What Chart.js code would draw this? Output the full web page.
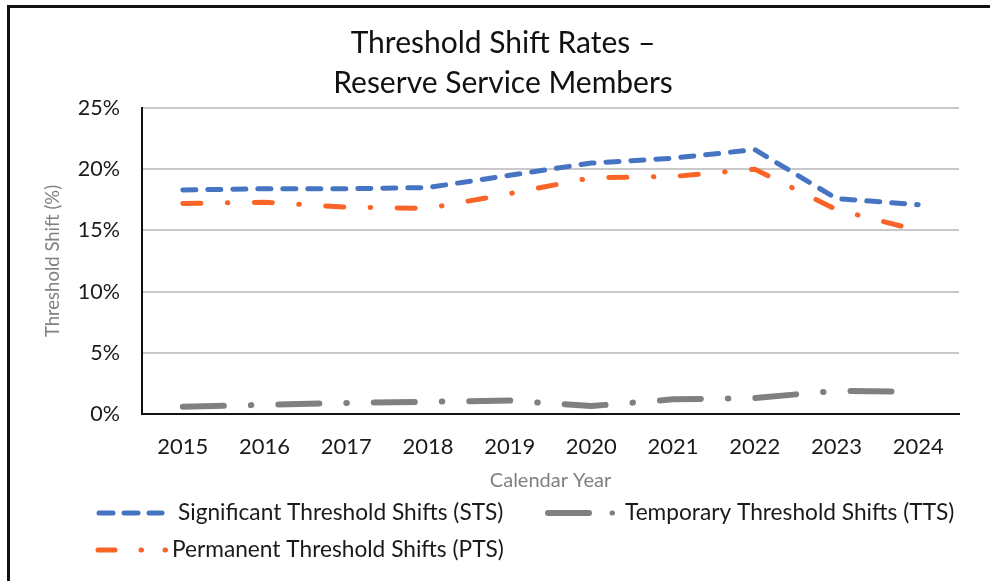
<!DOCTYPE html>
<html>
<head>
<meta charset="utf-8">
<title>Threshold Shift Rates</title>
<script src="https://cdn.jsdelivr.net/npm/chart.js@4.4.1/dist/chart.umd.min.js"></script>
<style>
    html, body { margin: 0; padding: 0; background: #fff; overflow: hidden; }
    #wrap { position: relative; width: 990px; height: 581px; }
    #frame {
        position: absolute; left: 7px; top: 5px; width: 990px; height: 600px;
        border-left: 3px solid #111; border-top: 3px solid #111;
    }
    #chartBox { position: absolute; left: 0; top: 0; width: 990px; height: 581px; }
</style>
</head>
<body>
<div id="wrap">
    <div id="frame"></div>
    <div id="chartBox"><canvas id="shiftChart"></canvas></div>
</div>
<script>
// Data (percent)
const years = ['2015', '2016', '2017', '2018', '2019', '2020', '2021', '2022', '2023', '2024'];
const stsValues = [18.3, 18.4, 18.4, 18.5, 19.5, 20.5, 20.9, 21.6, 17.6, 17.1];
const ttsValues = [0.6, 0.75, 0.9, 1.0, 1.1, 0.65, 1.2, 1.3, 1.9, 1.8];
const ptsValues = [17.2, 17.3, 16.9, 16.8, 18.0, 19.3, 19.4, 20.0, 16.7, 15.0];
const yTicks = [0, 5, 10, 15, 20, 25];

const FONT = 'Lato, "Noto Sans", sans-serif';

document.addEventListener('DOMContentLoaded', () => {
    const colors = {
        sts: '#4674c2',
        tts: '#808080',
        pts: '#fa6426'
    };

    // Legend drawn by hand so the samples look like Excel's line samples
    const legendPlugin = {
        id: 'excelLegend',
        afterDraw(chart) {
            const ctx = chart.ctx;
            ctx.save();
            ctx.lineCap = 'round';

            function seg(color, width, x1, x2, y) {
                ctx.beginPath();
                ctx.strokeStyle = color;
                ctx.lineWidth = width;
                ctx.moveTo(x1, y);
                ctx.lineTo(x2, y);
                ctx.stroke();
            }

            // STS sample: three short dashes
            const y1 = 513;
            seg(colors.sts, 5, 99, 113, y1);
            seg(colors.sts, 5, 124, 138, y1);
            seg(colors.sts, 5, 149, 162, y1);
            // TTS sample: long dash + dot
            seg(colors.tts, 6, 548, 589, y1);
            seg(colors.tts, 5, 612, 612.5, y1);
            // PTS sample: dash + two dots
            const y2 = 550;
            seg(colors.pts, 5, 98, 115, y2);
            seg(colors.pts, 5, 141, 141.5, y2);
            seg(colors.pts, 5, 165, 165.5, y2);

            ctx.fillStyle = '#1a1a1a';
            ctx.font = '22.7px ' + FONT;
            ctx.textBaseline = 'middle';
            ctx.textAlign = 'left';
            ctx.fillText('Significant Threshold Shifts (STS)', 178, y1);
            ctx.fillText('Temporary Threshold Shifts (TTS)', 625, y1);
            ctx.fillText('Permanent Threshold Shifts (PTS)', 172, y2);
            ctx.restore();
        }
    };

    const ctx = document.getElementById('shiftChart').getContext('2d');
    new Chart(ctx, {
        type: 'line',
        data: {
            labels: years,
            datasets: [
                {
                    label: 'Significant Threshold Shifts (STS)',
                    data: stsValues,
                    borderColor: colors.sts,
                    borderWidth: 5,
                    borderDash: [13, 12],
                    borderCapStyle: 'round',
                    borderJoinStyle: 'round'
                },
                {
                    label: 'Temporary Threshold Shifts (TTS)',
                    data: ttsValues,
                    borderColor: colors.tts,
                    borderWidth: 6,
                    borderDash: [41, 27, 0.5, 27],
                    borderCapStyle: 'round',
                    borderJoinStyle: 'round'
                },
                {
                    label: 'Permanent Threshold Shifts (PTS)',
                    data: ptsValues,
                    borderColor: colors.pts,
                    borderWidth: 5,
                    borderDash: [18, 26.5, 0.5, 26.5],
                    borderCapStyle: 'round',
                    borderJoinStyle: 'round'
                }
            ]
        },
        options: {
            responsive: true,
            maintainAspectRatio: false,
            animation: false,
            layout: {
                padding: { left: 47, right: 31, top: 0, bottom: 86 }
            },
            elements: {
                point: { radius: 0, hoverRadius: 0 },
                line: { tension: 0, fill: false }
            },
            plugins: {
                legend: { display: false },
                tooltip: { enabled: false },
                title: {
                    display: true,
                    text: ['Threshold Shift Rates \u2013', 'Reserve Service Members'],
                    color: '#111',
                    font: { family: FONT, size: 30, weight: 'normal', lineHeight: 1.333 },
                    padding: { top: 23, bottom: 5 }
                }
            },
            scales: {
                x: {
                    offset: true,
                    grid: { display: false, drawTicks: false },
                    border: { display: true, color: '#111', width: 2 },
                    ticks: {
                        color: '#1a1a1a',
                        padding: 20,
                        maxRotation: 0,
                        font: { family: FONT, size: 22 }
                    },
                    title: {
                        display: true,
                        text: 'Calendar Year',
                        color: '#808080',
                        font: { family: FONT, size: 20 },
                        padding: { top: 0, bottom: 2 }
                    },
                    afterFit(scale) { scale.height = 81; }
                },
                y: {
                    min: 0,
                    max: 25,
                    afterBuildTicks(scale) {
                        scale.ticks = yTicks.map(v => ({ value: v }));
                    },
                    grid: {
                        drawTicks: false,
                        lineWidth: 2,
                        color: c => (c.tick && c.tick.value === 0) ? 'rgba(0,0,0,0)' : '#c9c9c9'
                    },
                    border: { display: true, color: '#111', width: 2 },
                    ticks: {
                        color: '#1a1a1a',
                        padding: 22,
                        font: { family: FONT, size: 21.5 },
                        callback: v => v + '%'
                    },
                    title: {
                        display: true,
                        text: 'Threshold Shift (%)',
                        color: '#808080',
                        font: { family: FONT, size: 18.5 },
                        padding: { top: -5, bottom: 0 }
                    },
                    afterFit(scale) { scale.width = 95; }
                }
            }
        },
        plugins: [legendPlugin]
    });
});
</script>
</body>
</html>
